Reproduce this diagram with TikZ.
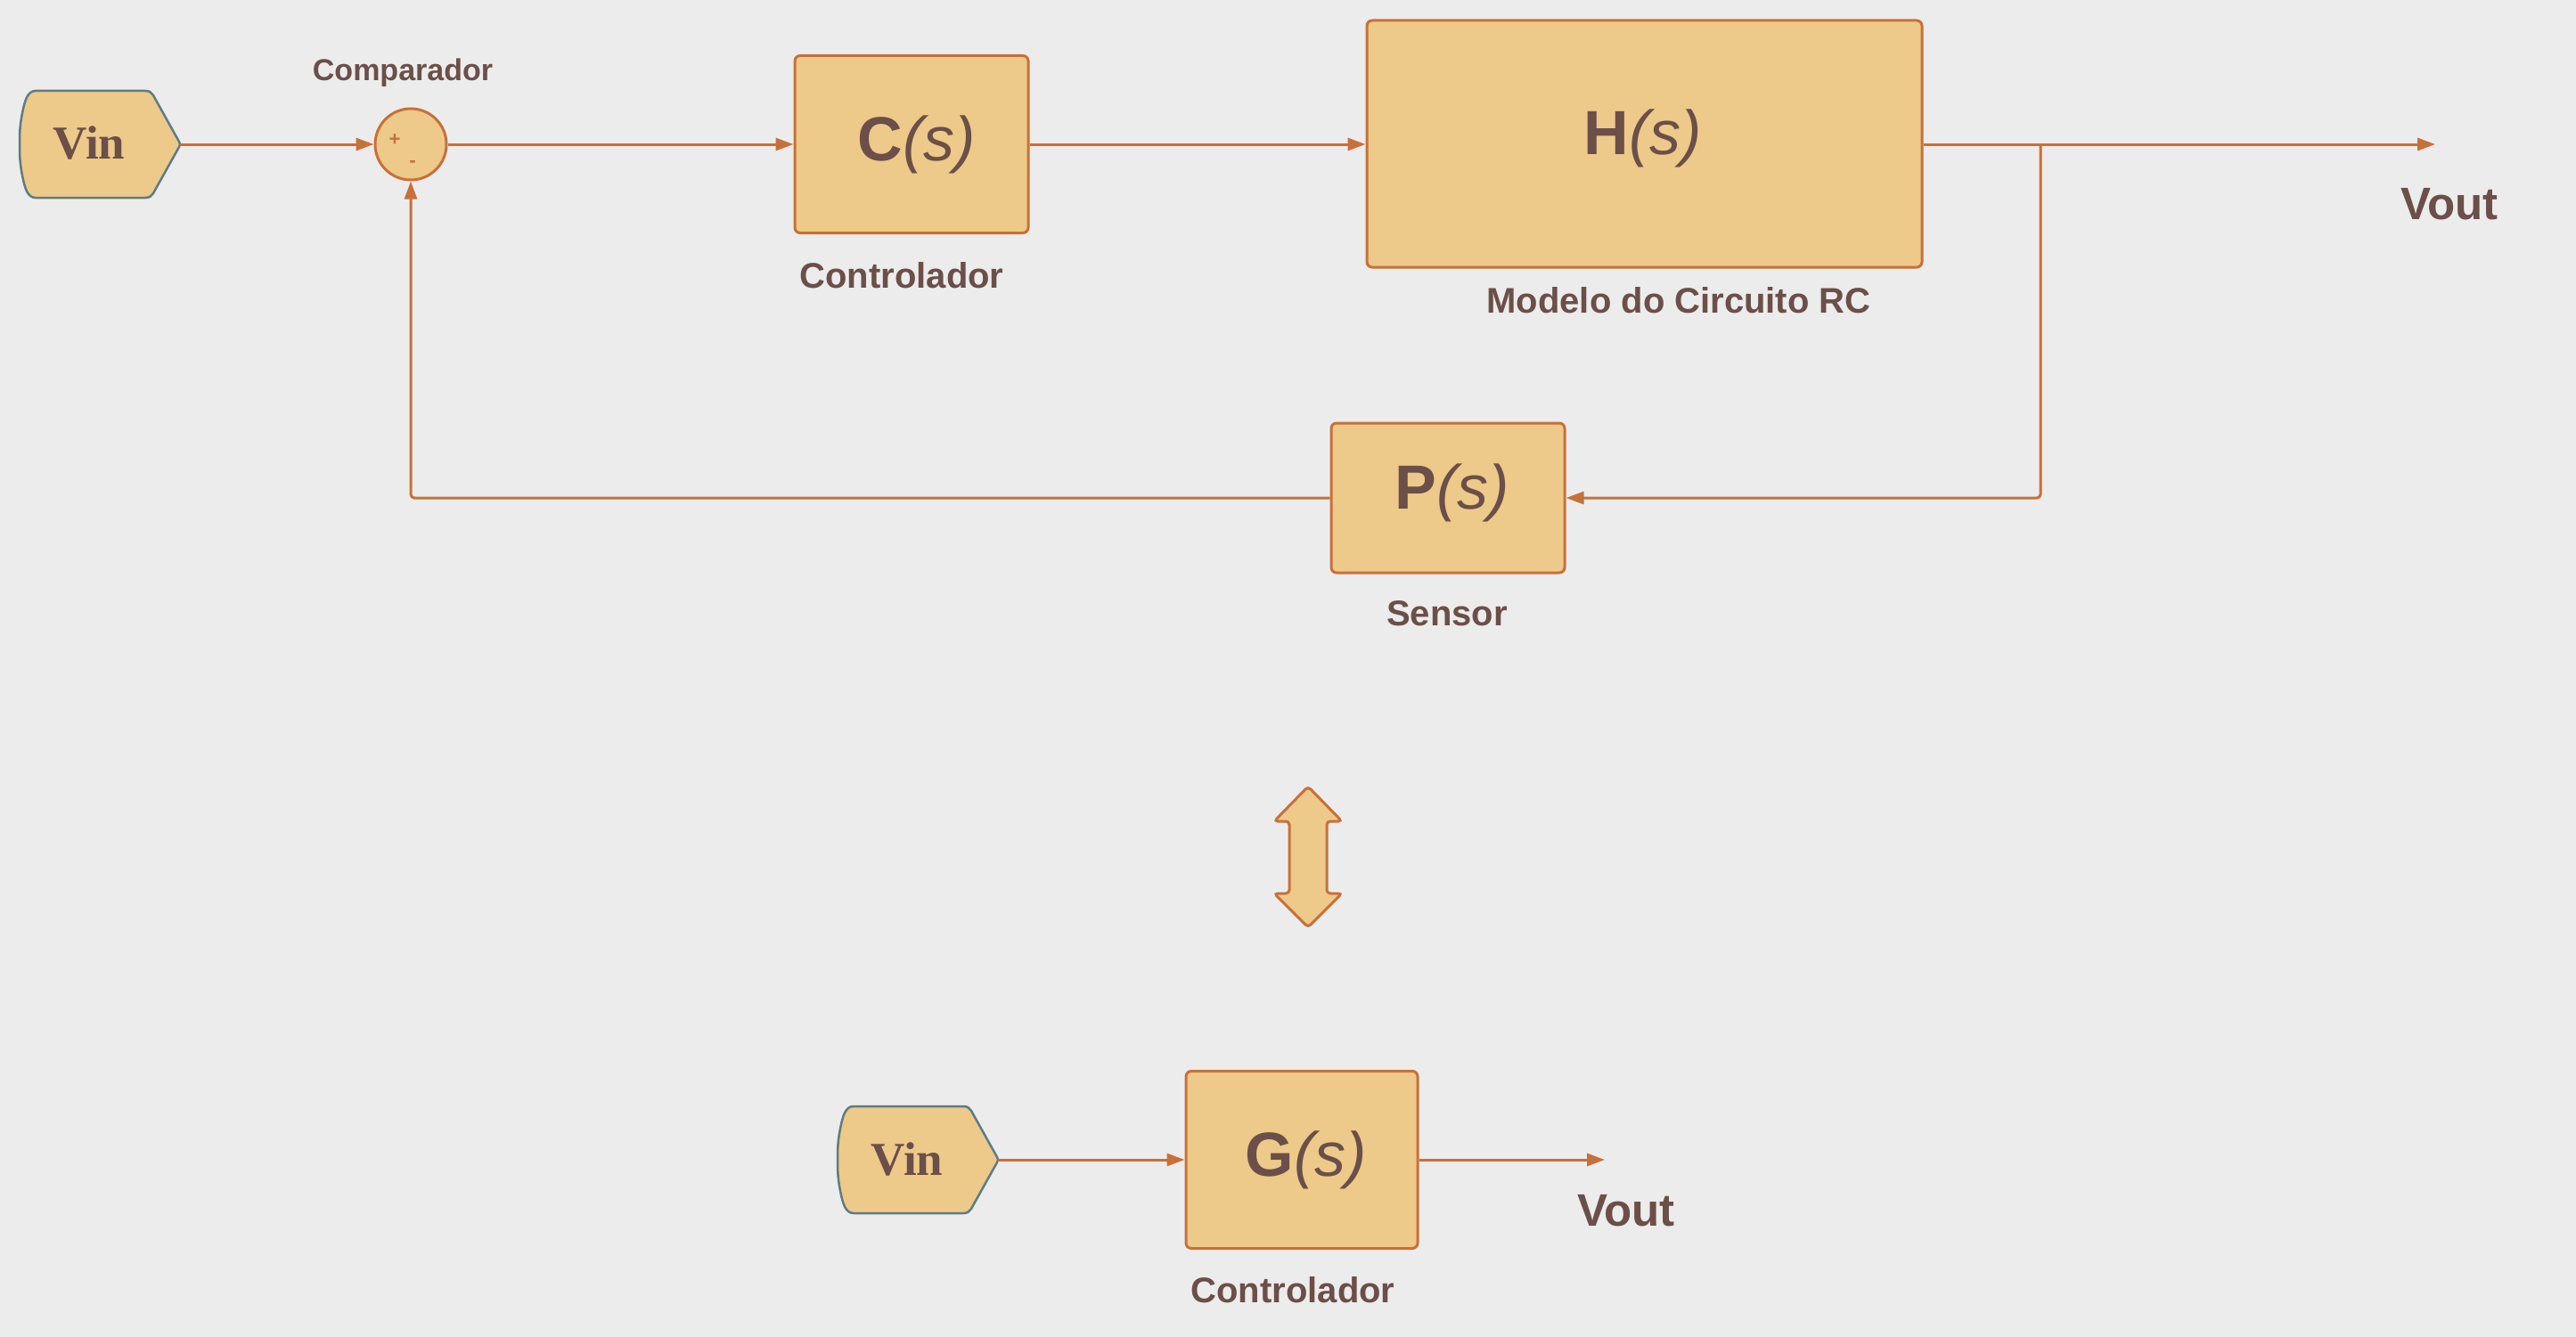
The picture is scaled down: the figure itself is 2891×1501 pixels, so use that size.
\documentclass[tikz,border=0pt]{standalone}
\usepackage{fontspec}
\setmainfont{Liberation Sans}
\newfontfamily\vinserif{Liberation Serif}
\usetikzlibrary{arrows.meta}
\definecolor{bg}{HTML}{ECECEC}
\definecolor{boxfill}{HTML}{EDC98A}
\definecolor{edge}{HTML}{C8703A}
\definecolor{txt}{HTML}{6B4F48}
\definecolor{vinedge}{HTML}{5E7C84}
\newcommand\blocktext[1]{{\bfseries #1}{\itshape\mdseries(s)}}
\begin{document}
\begin{tikzpicture}[x=1pt,y=-1pt,
  block/.style={draw=edge, fill=boxfill, line width=3pt, rounded corners=6pt, inner sep=0pt},
  conn/.style={draw=edge, line width=3pt, -{Triangle[length=20pt,width=14pt]}},
  lbl/.style={text=txt, font=\fontsize{40}{48}\selectfont\bfseries, inner sep=0pt},
  big/.style={text=txt, font=\fontsize{70}{80}\selectfont, inner sep=0pt},
  outlbl/.style={text=txt, font=\fontsize{51}{60}\selectfont\bfseries, inner sep=0pt},
  sign/.style={text=edge, font=\fontsize{22}{24}\selectfont\bfseries, inner sep=0pt},
  vinpic/.pic={
    \draw[vinedge, fill=boxfill, line width=2.5pt]
      (18,-60) -- (141,-60) .. controls (146,-60) and (148,-58) .. (150,-55)
      -- (179,-3) .. controls (180.5,-1) and (180.5,1) .. (179,3)
      -- (150,55) .. controls (148,58) and (146,60) .. (141,60)
      -- (18,60)
      .. controls (9,60) and (6,50) .. (3,35)
      .. controls (0,20) and (0,10) .. (0,0)
      .. controls (0,-10) and (0,-20) .. (3,-35)
      .. controls (6,-50) and (9,-60) .. (18,-60) -- cycle;
    \node[text=txt, font=\vinserif\fontsize{53}{60}\selectfont\bfseries, inner sep=0pt] (-text) at (78,-1) {Vin};
    \coordinate (-tip) at (180,0);
  }]
\useasboundingbox (0,0) rectangle (2891,1501);
\fill[bg] (0,0) rectangle (2891,1501);

% top row
\pic (v1) at (22,162) {vinpic};
\node[circle, draw=edge, fill=boxfill, line width=3pt, minimum size=80pt, inner sep=0pt] (comp) at (461,162) {};
\node[sign] (plus) at (443,157) {+};
\node[sign] (minus) at (463,184) {-};
\node[lbl, font=\fontsize{34}{40}\selectfont\bfseries] (complbl) at (452,82) {Comparador};

\node[block, minimum width=262pt, minimum height=199pt] (C) at (1023,162) {};
\node[big] (Ctext) at (1029,162) {\blocktext{C}};
\node[lbl] (Clbl) at (1012,309) {Controlador};

\node[block, minimum width=623pt, minimum height=277pt] (H) at (1845.5,161.5) {};
\node[big] (Htext) at (1844,155) {\blocktext{H}};
\node[lbl] (Hlbl) at (1884,337) {Modelo do Circuito RC};

\coordinate (vout1) at (2733,162);
\node[outlbl] (vout1lbl) at (2749,229) {Vout};
\coordinate (br) at (2290,162);

\node[block, minimum width=262pt, minimum height=168pt] (P) at (1625,559) {};
\node[big] (Ptext) at (1630,553) {\blocktext{P}};
\node[lbl] (Plbl) at (1624,689) {Sensor};

\draw[conn] (v1-tip) -- (comp.west);
\draw[conn] (comp.east) -- (C.west);
\draw[conn] (C.east) -- (C.east -| H.west);
\draw[conn] (H.east |- C.east) -- (vout1);
\draw[conn, rounded corners=4pt] (br) |- (P.east);
\draw[conn, rounded corners=4pt] (P.west) -| (comp.south);

% double arrow
\draw[edge, fill=boxfill, line width=3pt, rounded corners=4pt]
  (1468,883) -- (1506,922) -- (1489,922) -- (1489,1003) -- (1506,1003)
  -- (1468,1041) -- (1430,1003) -- (1447,1003) -- (1447,922) -- (1430,922) -- cycle;

% bottom row
\pic (v2) at (940,1302) {vinpic};
\node[block, minimum width=260pt, minimum height=199pt] (G) at (1461,1302) {};
\node[big] (Gtext) at (1466,1302) {\blocktext{G}};
\node[lbl] (Glbl) at (1451,1448) {Controlador};
\coordinate (vout2) at (1801,1302);
\node[outlbl] (vout2lbl) at (1825,1359) {Vout};

\draw[conn] (v2-tip) -- (G.west);
\draw[conn] (G.east) -- (vout2);
\end{tikzpicture}
\end{document}
